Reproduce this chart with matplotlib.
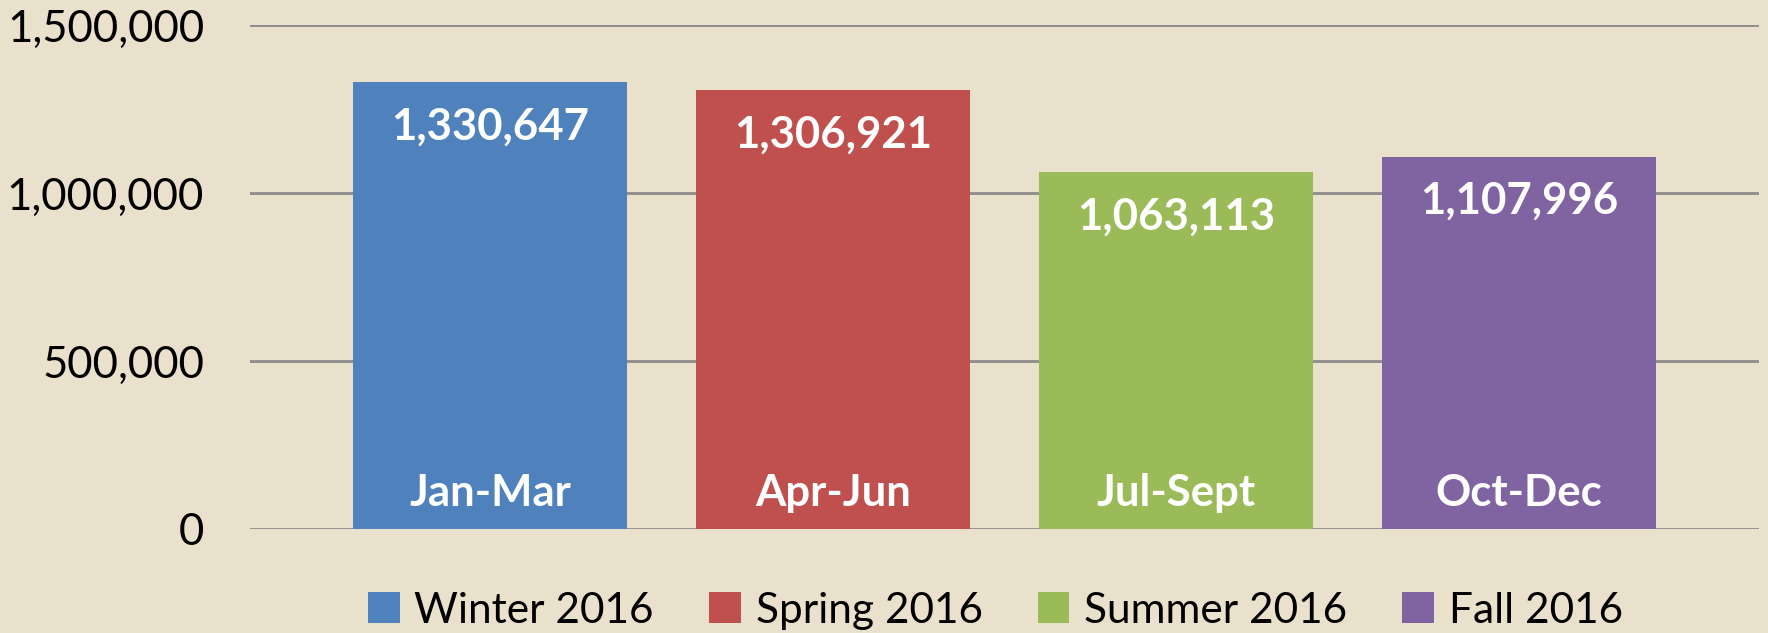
import matplotlib.pyplot as plt
from matplotlib.patches import Patch
from matplotlib.ticker import FuncFormatter

# data
seasons = ['Winter 2016', 'Spring 2016', 'Summer 2016', 'Fall 2016']
quarters = ['Jan-Mar', 'Apr-Jun', 'Jul-Sept', 'Oct-Dec']
values = [1330647, 1306921, 1063113, 1107996]
colors = ['#4F81BD', '#C0504D', '#9BBB59', '#8064A2']
yticks = [0, 500000, 1000000, 1500000]

bg = '#EAE1CC'
plt.rcParams['font.family'] = ['Lato', 'DejaVu Sans']

fig = plt.figure(figsize=(17.68, 6.33), dpi=100, facecolor=bg)
ax = fig.add_axes([0.1414, 0.1643, 0.8536, 0.7962])
ax.set_facecolor(bg)

x = range(len(values))
bars = ax.bar(x, values, width=0.80, color=colors, zorder=3)

for xi, v, q in zip(x, values, quarters):
    ax.annotate(f'{v:,}', (xi, v), xytext=(0, -32), textcoords='offset points',
                ha='center', va='center', color='white', fontsize=31.5, fontweight='bold', zorder=4)
    ax.annotate(q, (xi, 0), xytext=(0, 26), textcoords='offset points',
                ha='center', va='center', color='white', fontsize=31.5, fontweight='bold', zorder=4)

ax.set_xlim(-0.70, 3.70)
ax.set_ylim(0, 1500000)
ax.set_yticks(yticks)
ax.yaxis.set_major_formatter(FuncFormatter(lambda v, p: f'{int(v):,}'))
ax.tick_params(axis='y', length=0, pad=33, labelsize=31.5)
ax.set_xticks([])
ax.grid(axis='y', color='#8C8C8C', linewidth=2, zorder=1)
for s in ax.spines.values():
    s.set_visible(False)

handles = [Patch(facecolor=c, label=s) for c, s in zip(colors, seasons)]
ax.legend(handles=handles, loc='center', bbox_to_anchor=(0.494, -0.162), ncol=4,
          frameon=False, fontsize=30.5, handlelength=0.75, handleheight=0.75,
          handletextpad=0.35, columnspacing=1.3)

fig.savefig('out.png', dpi=100, facecolor=bg)
